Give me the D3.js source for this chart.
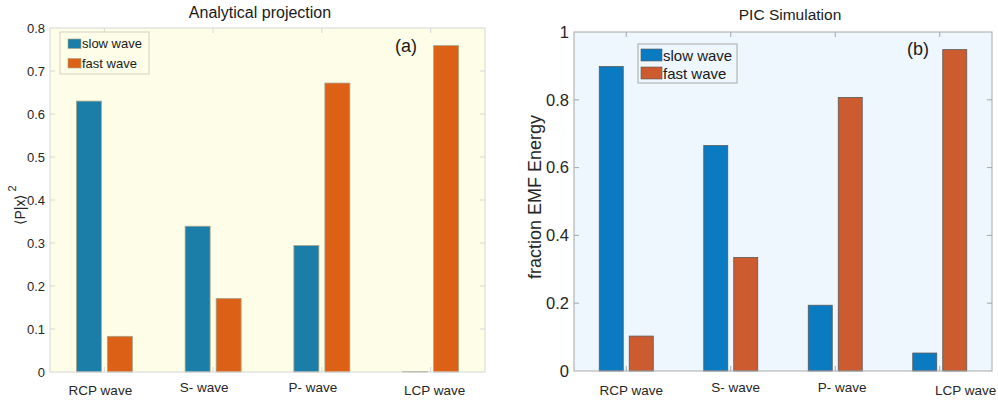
<!DOCTYPE html>
<html>
<head>
  <meta charset="utf-8">
  <style>
    body { margin: 0; background: #ffffff; }
    svg { display: block; font-family: "Liberation Sans", Arial, sans-serif; }
  </style>
</head>
<body>
  <div id="chart"></div>
  <script src="https://d3js.org/d3.v7.min.js"></script>
  <script>
    // data
    var categories = ['RCP wave', 'S- wave', 'P- wave', 'LCP wave'];
    var series = ['slow wave', 'fast wave'];
    var analyticSlow = [0.630, 0.339, 0.294, 0.001];
    var analyticFast = [0.083, 0.171, 0.672, 0.759];
    var picSlow = [0.898, 0.665, 0.194, 0.053];
    var picFast = [0.103, 0.335, 0.807, 0.948];
    var analyticTicks = [0, 0.1, 0.2, 0.3, 0.4, 0.5, 0.6, 0.7, 0.8];
    var picTicks = [0, 0.2, 0.4, 0.6, 0.8, 1];

    var width = 998, height = 408;

    var svg = d3.select('#chart')
        .append('svg')
        .attr('width', width)
        .attr('height', height);

    function drawPanel(p) {
      var g = svg.append('g');

      var x = d3.scaleBand()
          .domain(categories)
          .range([p.left, p.right])
          .padding(0);

      var inner = d3.scaleBand()
          .domain(series)
          .range([-p.barW - p.gap / 2, p.barW + p.gap / 2])
          .paddingInner(p.gap / (p.barW + p.gap));

      var y = d3.scaleLinear()
          .domain([0, p.yMax])
          .range([p.bottom, p.top]);

      // plot background
      g.append('rect')
          .attr('x', p.left)
          .attr('y', p.top)
          .attr('width', p.right - p.left)
          .attr('height', p.bottom - p.top)
          .attr('fill', p.bg);

      // inward ticks on all four sides
      var tk = 5;
      p.ticks.forEach(function (t) {
        if (t === 0 || t === p.yMax) return;
        g.append('line').attr('x1', p.left).attr('x2', p.left + tk)
            .attr('y1', y(t)).attr('y2', y(t)).attr('stroke', p.frame);
        g.append('line').attr('x1', p.right).attr('x2', p.right - tk)
            .attr('y1', y(t)).attr('y2', y(t)).attr('stroke', p.frame);
      });
      categories.forEach(function (c) {
        var cx = x(c) + x.bandwidth() / 2;
        g.append('line').attr('x1', cx).attr('x2', cx)
            .attr('y1', p.top).attr('y2', p.top + tk).attr('stroke', p.frame);
        g.append('line').attr('x1', cx).attr('x2', cx)
            .attr('y1', p.bottom).attr('y2', p.bottom - tk).attr('stroke', p.frame);
      });

      // bars
      var rows = [];
      categories.forEach(function (c, i) {
        rows.push({cat: c, key: series[0], v: p.slow[i]});
        rows.push({cat: c, key: series[1], v: p.fast[i]});
      });
      g.selectAll('rect.bar')
          .data(rows)
          .enter().append('rect')
          .attr('class', 'bar')
          .attr('x', d => x(d.cat) + x.bandwidth() / 2 + inner(d.key))
          .attr('y', d => y(d.v))
          .attr('width', inner.bandwidth())
          .attr('height', d => y(0) - y(d.v))
          .attr('fill', d => d.key === series[0] ? p.colors[0] : p.colors[1])
          .attr('stroke', p.barEdge)
          .attr('stroke-width', 0.8);

      // frame
      g.append('rect')
          .attr('x', p.left)
          .attr('y', p.top)
          .attr('width', p.right - p.left)
          .attr('height', p.bottom - p.top)
          .attr('fill', 'none')
          .attr('stroke', p.frame)
          .attr('stroke-width', 1);

      // y tick labels
      g.selectAll('text.ytick')
          .data(p.ticks)
          .enter().append('text')
          .attr('x', p.left - 5)
          .attr('y', d => y(d))
          .attr('dy', '0.35em')
          .attr('text-anchor', 'end')
          .attr('font-size', p.yFont)
          .attr('fill', '#262626')
          .text(d => d);

      // x tick labels
      g.selectAll('text.xtick')
          .data(categories)
          .enter().append('text')
          .attr('x', (d, i) => x(d) + x.bandwidth() / 2 + p.labelDx[i])
          .attr('y', (d, i) => p.bottom + p.labelDy[i])
          .attr('text-anchor', 'middle')
          .attr('font-size', 13.5)
          .attr('fill', '#262626')
          .text(d => d);

      // title
      g.append('text')
          .attr('x', p.titleX)
          .attr('y', p.titleY)
          .attr('text-anchor', 'middle')
          .attr('font-size', p.titleFont)
          .attr('fill', '#1a1a1a')
          .text(p.title);

      // panel letter
      g.append('text')
          .attr('x', p.letterX)
          .attr('y', p.letterY)
          .attr('text-anchor', 'middle')
          .attr('font-size', 18)
          .attr('fill', '#1a1a1a')
          .text(p.letter);

      // legend
      var lg = g.append('g');
      lg.append('rect')
          .attr('x', p.legend.x).attr('y', p.legend.y)
          .attr('width', p.legend.w).attr('height', p.legend.h)
          .attr('fill', p.bg).attr('stroke', p.legendEdge);
      series.forEach(function (s, i) {
        var sy = p.legend.y + p.legend.pad + i * p.legend.step;
        lg.append('rect')
            .attr('x', p.legend.x + p.legend.sx)
            .attr('y', sy)
            .attr('width', p.legend.sw)
            .attr('height', p.legend.sh)
            .attr('fill', p.colors[i])
            .attr('stroke', p.barEdge)
            .attr('stroke-width', 0.6);
        lg.append('text')
            .attr('x', p.legend.x + p.legend.sx + p.legend.sw + 1)
            .attr('y', sy + p.legend.sh - 0.5)
            .attr('font-size', p.legend.font)
            .attr('fill', '#1a1a1a')
            .text(s);
      });

      return y;
    }

    // (a) analytical projection
    drawPanel({
      left: 50, right: 485, top: 28, bottom: 372,
      yMax: 0.8, ticks: analyticTicks,
      slow: analyticSlow, fast: analyticFast,
      colors: ['#1a7ea8', '#dc6117'],
      bg: '#fefee8', frame: '#d6d6d6', barEdge: '#a8a488', legendEdge: '#d0d0c0',
      barW: 25, gap: 6, yFont: 13,
      labelDx: [-4, -9, -9, 4], labelDy: [23, 20, 20, 23],
      title: 'Analytical projection', titleX: 260, titleY: 18, titleFont: 16,
      letter: '(a)', letterX: 406, letterY: 52,
      legend: {x: 60, y: 32, w: 89, h: 42, pad: 7, step: 19.5, sx: 8, sw: 13, sh: 9.5, font: 13}
    });

    // left y label: <P|x>^2
    var ylab = svg.append('text')
        .attr('transform', 'translate(25,205) rotate(-90)')
        .attr('text-anchor', 'middle')
        .attr('font-size', 14)
        .attr('fill', '#262626');
    ylab.append('tspan').text('\u27E8P|x\u27E9');
    ylab.append('tspan').attr('dx', 3).attr('dy', -9).attr('font-size', 11).text('2');

    // (b) PIC simulation
    drawPanel({
      left: 574, right: 992, top: 32, bottom: 371,
      yMax: 1, ticks: picTicks,
      slow: picSlow, fast: picFast,
      colors: ['#0b7bc1', '#cc5b30'],
      bg: '#edf7fd', frame: '#a8a8a8', barEdge: '#5a5a5a', legendEdge: '#a8a8a8',
      barW: 24, gap: 6, yFont: 16.5,
      labelDx: [5, 5, 7, 26], labelDy: [24, 21, 21, 24],
      title: 'PIC Simulation', titleX: 790, titleY: 20, titleFont: 15.5,
      letter: '(b)', letterX: 918, letterY: 55,
      legend: {x: 638, y: 44, w: 99, h: 39, pad: 5, step: 18, sx: 3, sw: 21, sh: 12, font: 15}
    });

    svg.append('text')
        .attr('transform', 'translate(541,197) rotate(-90)')
        .attr('text-anchor', 'middle')
        .attr('font-size', 18)
        .attr('fill', '#262626')
        .text('fraction EMF Energy');
  </script>
</body>
</html>
